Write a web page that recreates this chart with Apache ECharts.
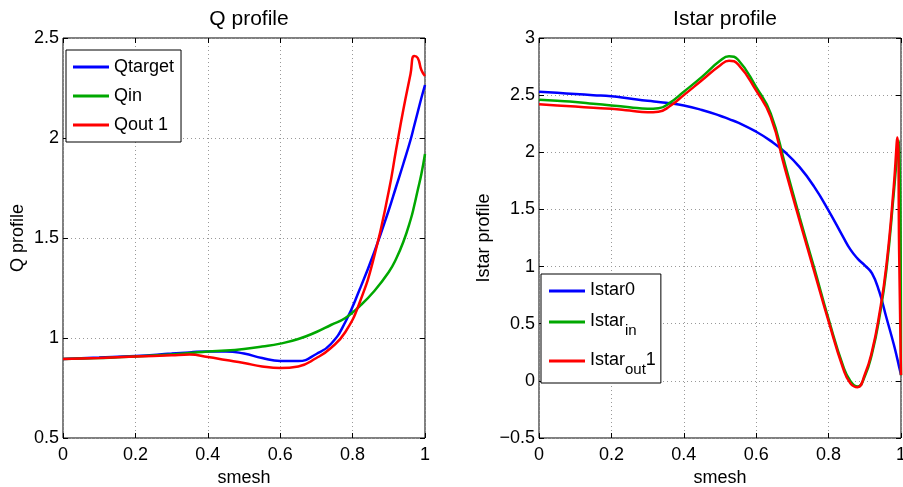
<!DOCTYPE html>
<html>
<head>
<meta charset="utf-8">
<script src="https://cdn.jsdelivr.net/npm/echarts@6/dist/echarts.min.js"></script>
<style>
html, body { margin: 0; background: #fff; }
#chart { width: 903px; height: 487px; }
</style>
</head>
<body>
<div id="chart"></div>
<script>
const FONT = '"Liberation Sans", Arial, Helvetica, sans-serif';

// left panel: Q profile
const qSmesh = [0, 0.1, 0.2, 0.3, 0.35, 0.4, 0.45, 0.5, 0.55, 0.6, 0.65, 0.7, 0.74, 0.78, 0.82, 0.86, 0.9, 0.92, 0.94, 0.96, 0.97, 0.98, 0.99, 1.0];
const qTarget = [0.895, 0.902, 0.91, 0.922, 0.928, 0.933, 0.933, 0.922, 0.90, 0.885, 0.885, 0.92, 0.97, 1.08, 1.245, 1.43, 1.64, 1.755, 1.87, 1.99, 2.06, 2.13, 2.20, 2.265];
const qIn = [0.895, 0.90, 0.907, 0.918, 0.925, 0.933, 0.937, 0.945, 0.957, 0.972, 0.995, 1.03, 1.065, 1.10, 1.16, 1.235, 1.33, 1.395, 1.48, 1.59, 1.66, 1.74, 1.82, 1.92];
const qOut = [0.895, 0.90, 0.907, 0.914, 0.917, 0.905, 0.89, 0.875, 0.858, 0.85, 0.858, 0.90, 0.95, 1.03, 1.18, 1.41, 1.735, 1.94, 2.14, 2.32, 2.41, 2.40, 2.34, 2.31];

// right panel: Istar profile
const iSmesh = [0, 0.05, 0.1, 0.15, 0.2, 0.25, 0.3, 0.33, 0.36, 0.4, 0.45, 0.5, 0.525, 0.55, 0.6, 0.64, 0.68, 0.72, 0.76, 0.8, 0.84, 0.86, 0.88, 0.9, 0.92, 0.94, 0.96, 0.98, 0.99, 0.995, 1.0];
const istar0 = [2.53, 2.52, 2.51, 2.50, 2.49, 2.47, 2.45, 2.44, 2.43, 2.41, 2.37, 2.32, 2.29, 2.26, 2.18, 2.10, 2.00, 1.87, 1.70, 1.49, 1.26, 1.15, 1.07, 1.01, 0.94, 0.78, 0.55, 0.32, 0.19, 0.12, 0.055];
const istarIn = [2.46, 2.45, 2.44, 2.425, 2.41, 2.395, 2.38, 2.385, 2.43, 2.53, 2.66, 2.80, 2.84, 2.81, 2.57, 2.34, 1.89, 1.43, 0.99, 0.54, 0.13, 0.0, -0.05, 0.04, 0.24, 0.55, 0.98, 1.64, 2.0, 2.10, 0.05];
const istarOut = [2.42, 2.41, 2.40, 2.39, 2.38, 2.365, 2.35, 2.355, 2.40, 2.50, 2.63, 2.76, 2.80, 2.77, 2.54, 2.31, 1.85, 1.40, 0.96, 0.52, 0.11, -0.02, -0.055, 0.055, 0.26, 0.58, 1.02, 1.70, 2.13, 1.10, 0.05];

const BLUE = '#0000ff';
const GREEN = '#00a800';
const RED = '#ff0000';

const pairs = (xs, ys) => xs.map((x, i) => [x, ys[i]]);
const fmt = (v) => (v < 0 ? '\u2212' + String(-v) : String(v));

const chart = echarts.init(document.getElementById('chart'));

const txt = { fontFamily: FONT, color: '#000' };
const tick = { show: true, inside: true, length: 5, lineStyle: { color: '#000' } };
const dotted = { show: true, lineStyle: { color: '#999', type: [1, 3], width: 1 } };

function mainX(gridIndex) {
    return {
        type: 'value', gridIndex, min: 0, max: 1, interval: 0.2,
        name: 'smesh', nameLocation: 'middle', nameGap: 24,
        nameTextStyle: { ...txt, fontSize: 18 },
        axisLine: { show: false, onZero: false },
        axisTick: tick,
        axisLabel: { ...txt, fontSize: 18, margin: 8, formatter: fmt },
        splitLine: dotted,
    };
}
function topX(gridIndex) {
    return {
        type: 'value', gridIndex, position: 'top', min: 0, max: 1, interval: 0.2,
        axisLine: { show: false, onZero: false },
        axisTick: tick,
        axisLabel: { show: false },
        splitLine: { show: false },
    };
}
function mainY(gridIndex, min, max, name, gap) {
    return {
        type: 'value', gridIndex, min, max, interval: 0.5,
        name, nameLocation: 'middle', nameGap: gap,
        nameTextStyle: { ...txt, fontSize: 18 },
        axisLine: { show: false, onZero: false },
        axisTick: tick,
        axisLabel: { ...txt, fontSize: 18, margin: 4, formatter: fmt },
        splitLine: dotted,
    };
}
function rightY(gridIndex, min, max) {
    return {
        type: 'value', gridIndex, position: 'right', min, max, interval: 0.5,
        axisLine: { show: false, onZero: false },
        axisTick: tick,
        axisLabel: { show: false },
        splitLine: { show: false },
    };
}
function line(name, data, color, axis) {
    return {
        name, type: 'line', data, xAxisIndex: axis, yAxisIndex: axis,
        smooth: 0.5, showSymbol: false, symbol: 'none', clip: false,
        lineStyle: { color, width: 2.5 }, itemStyle: { color },
    };
}

const legendBase = {
    orient: 'vertical',
    backgroundColor: '#fff',
    borderColor: '#000',
    borderWidth: 1,
    borderRadius: 0,
    icon: 'rect',
    itemWidth: 36,
    itemHeight: 3,
    inactiveColor: '#000',
};

const option = {
    animation: false,
    backgroundColor: '#fff',
    title: [
        { text: 'Q profile', left: 244, top: 4, textAlign: 'center', textStyle: { ...txt, fontSize: 21, fontWeight: 'normal' } },
        { text: 'Istar profile', left: 720, top: 4, textAlign: 'center', textStyle: { ...txt, fontSize: 21, fontWeight: 'normal' } },
    ],
    grid: [
        { left: 63, top: 38, width: 362, height: 400, show: true, borderColor: '#000', borderWidth: 1, backgroundColor: 'transparent', containLabel: false, outerBoundsMode: 'none' },
        { left: 539, top: 38, width: 362, height: 400, show: true, borderColor: '#000', borderWidth: 1, backgroundColor: 'transparent', containLabel: false, outerBoundsMode: 'none' },
    ],
    xAxis: [mainX(0), topX(0), mainX(1), topX(1)],
    yAxis: [
        mainY(0, 0.5, 2.5, 'Q profile', 36), rightY(0, 0.5, 2.5),
        mainY(1, -0.5, 3, 'Istar profile', 46), rightY(1, -0.5, 3),
    ],
    legend: [
        {
            ...legendBase,
            data: ['Qtarget', 'Qin', 'Qout 1'],
            left: 66, top: 50,
            padding: [7, 7, 7, 7],
            itemGap: 9,
            textStyle: { ...txt, fontSize: 18, lineHeight: 20 },
        },
        {
            ...legendBase,
            data: ['Istar0', 'Istar_in', 'Istar_out1'],
            left: 541, top: 274,
            padding: [7, 5, 6, 8],
            itemGap: 13,
            formatter: (n) => {
                if (n === 'Istar_in') return '{a|Istar}{s|in}';
                if (n === 'Istar_out1') return '{a|Istar}{s|out}{a|1}';
                return '{a|' + n + '}';
            },
            textStyle: {
                ...txt, fontSize: 18,
                rich: {
                    a: { fontFamily: FONT, fontSize: 18, color: '#000', lineHeight: 20, verticalAlign: 'top' },
                    s: { fontFamily: FONT, fontSize: 15, color: '#000', lineHeight: 17, padding: [11, 0, 0, 0], verticalAlign: 'top' },
                },
            },
        },
    ],
    series: [
        line('Qtarget', pairs(qSmesh, qTarget), BLUE, 0),
        line('Qin', pairs(qSmesh, qIn), GREEN, 0),
        line('Qout 1', pairs(qSmesh, qOut), RED, 0),
        line('Istar0', pairs(iSmesh, istar0), BLUE, 2),
        line('Istar_in', pairs(iSmesh, istarIn), GREEN, 2),
        line('Istar_out1', pairs(iSmesh, istarOut), RED, 2),
    ],
};

chart.setOption(option);
</script>
</body>
</html>
